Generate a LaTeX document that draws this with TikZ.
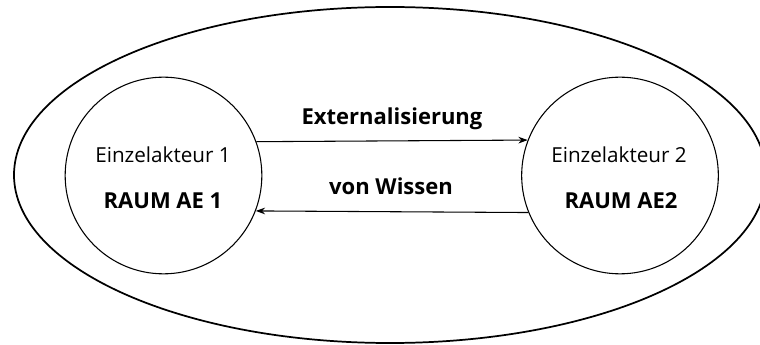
\documentclass[tikz,border=0pt]{standalone}
\usepackage{fontspec}
\setmainfont{Open Sans}
\usetikzlibrary{arrows.meta}
\begin{document}
\begin{tikzpicture}[x=0.75pt,y=-0.75pt,
  actor/.style={circle,draw,line width=0.8pt,minimum size=147.5pt,inner sep=0pt},
  flow/.style={line width=0.8pt,-{Stealth[length=7pt,width=5pt]}},
  plain/.style={font=\fontsize{15.5}{18}\selectfont,anchor=base},
  lbl/.style={font=\fontsize{16.5}{19}\selectfont\bfseries,anchor=base}]
  \useasboundingbox (0,0) rectangle (760,345);
  % the shared space around both actors
  \draw[line width=1.3pt] (390,175) ellipse [x radius=376, y radius=168];
  % the two actors
  \node[actor] (L) at (163.5,175.5) {};
  \node[actor] (R) at (620,175.5) {};
  \node[plain] (L1) at (163,163) {Einzelakteur 1};
  \node[lbl] (L2) at (163,209) {RAUM AE 1};
  \node[plain] (R1) at (619,163) {Einzelakteur 2};
  \node[lbl] (R2) at (621,209) {RAUM AE2};
  % exchange between them
  \draw[flow] (L.20.5) -- (R.159.5);
  \draw[flow] (R.-158) -- (L.-21.5);
  \node[lbl] (T) at (392,125) {Externalisierung};
  \node[lbl] (B) at (391,195) {von Wissen};
\end{tikzpicture}
\end{document}
